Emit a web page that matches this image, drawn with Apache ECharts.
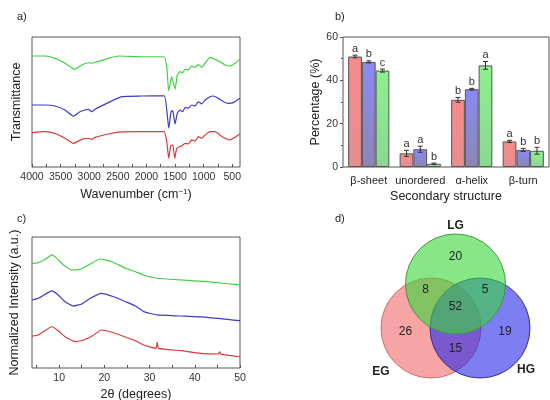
<!DOCTYPE html>
<html>
<head>
<meta charset="utf-8">
<script src="https://cdn.jsdelivr.net/npm/echarts@6.0.0/dist/echarts.min.js"></script>
<style>
  html, body { margin: 0; padding: 0; background: #fff; }
  #chart { width: 550px; height: 400px; }
</style>
</head>
<body>
<div id="chart"></div>
<script>
// ---- a) FTIR spectra (wavenumber, transmittance in arbitrary units) ----
const ftirLGwn = [4000, 3773, 3598, 3423, 3260, 3131, 3016, 2957, 2899, 2724, 2491, 2083, 1690, 1646, 1610, 1558, 1500, 1460, 1413, 1366, 1326, 1268, 1208, 1151, 1093, 1034, 976, 889, 801, 714, 626, 539, 451, 370];
const ftirLG = [85.4, 85.4, 83.6, 79.8, 75.2, 78.5, 80.2, 79.8, 80.5, 82.8, 85.4, 84.8, 84.8, 77.2, 58.5, 69.5, 59.8, 70.8, 73.3, 72.5, 75.2, 74.6, 77.7, 76.7, 78.7, 76.7, 79.8, 84.4, 82.8, 81, 78.5, 77.7, 79.8, 82.8];
const ftirHGwn = [4000, 3773, 3598, 3423, 3278, 3161, 3016, 2957, 2899, 2666, 2432, 2083, 1690, 1645, 1610, 1570, 1540, 1500, 1460, 1413, 1366, 1326, 1268, 1208, 1151, 1093, 1034, 976, 889, 831, 744, 656, 569, 481, 370];
const ftirHG = [47.7, 47.7, 46.9, 43.8, 39.2, 42.5, 44.4, 42.5, 44.4, 49.5, 54.1, 54.6, 54.8, 43.8, 29.8, 42.5, 43.3, 33.1, 41.3, 43.8, 42.5, 45.9, 45.2, 47.7, 46.9, 50.2, 48.5, 51.5, 54.1, 54.6, 52.8, 50.2, 49, 49.5, 52.8];
const ftirEGwn = [4000, 3773, 3598, 3423, 3278, 3131, 3016, 2957, 2899, 2666, 2491, 2083, 1693, 1645, 1610, 1576, 1540, 1505, 1471, 1425, 1383, 1326, 1268, 1208, 1151, 1093, 1034, 976, 889, 801, 714, 626, 539, 451, 370];
const ftirEG = [26.4, 27.2, 25.9, 22.1, 18.2, 21.3, 22.1, 21.3, 22.8, 25.4, 26.9, 27.2, 27.2, 19.5, 6.7, 16.2, 16.9, 6.7, 14.4, 15.6, 16.2, 18.2, 17.7, 20.8, 20, 23.3, 22.1, 24.6, 27.2, 27.2, 24.6, 22.1, 20.8, 22.8, 25.4];
const ftirTicks = [4000, 3500, 3000, 2500, 2000, 1500, 1000, 500];

// ---- b) secondary structure (%) ----
const structures = ['β-sheet', 'unordered', 'α-helix', 'β-turn'];
const pctEG = [51, 6.3, 31, 11.8];
const errEG = [0.6, 1.4, 1.1, 0.5];
const letEG = ['a', 'a', 'b', 'a'];
const pctHG = [48.5, 8.2, 35.9, 7.9];
const errHG = [0.5, 1.4, 0.4, 0.7];
const letHG = ['b', 'a', 'b', 'b'];
const pctLG = [44.5, 1.5, 46.9, 7.5];
const errLG = [0.7, 0.3, 1.8, 1.6];
const letLG = ['c', 'b', 'a', 'b'];

// ---- c) XRD patterns (2θ, normalized intensity) ----
const xrdLGx = [4, 5.4, 6.9, 8.4, 9.5, 11, 12.8, 14.7, 16.5, 19.1, 21.7, 24.7, 26.9, 28.7, 31.7, 36.9, 42.8, 50];
const xrdLG = [79.9, 80.4, 83, 86.3, 83.7, 78.6, 74.8, 75.3, 78.6, 83.2, 81.1, 76.1, 73.5, 71, 68.5, 67.2, 65.9, 63.4];
const xrdHGx = [4, 5.4, 8.4, 9.8, 11.3, 13.2, 15, 16.9, 19.3, 22.1, 24.7, 26.9, 28.7, 31.7, 36.9, 42.8, 50];
const xrdHG = [51.9, 53.2, 58.8, 55.7, 50.6, 47.3, 48.9, 53.2, 57, 54.4, 50.6, 47.3, 43, 40.5, 39.7, 38.7, 36.1];
const xrdEGx = [4, 5.4, 8.4, 9.8, 11.3, 13.6, 15.4, 17.3, 19.3, 22.4, 25.4, 26.9, 28.7, 31.4, 31.7, 32.0, 36.9, 41.3, 45.2, 45.5, 45.8, 50];
const xrdEG = [24.4, 25.2, 31.5, 28.5, 23.9, 20.1, 21.4, 24.4, 29, 26.5, 22.7, 20.8, 17.6, 15, 19.5, 15, 13.2, 11.2, 10.7, 12.4, 10.6, 8.6];
const xrdTicks = [10, 20, 30, 40, 50];

// ---- d) Venn counts ----
const vennSets = ['LG', 'EG', 'HG'];
const vennRegions = ['LG', 'EG', 'HG', 'LG∩EG', 'LG∩HG', 'EG∩HG', 'LG∩EG∩HG'];
const vennCounts = [20, 26, 19, 8, 5, 15, 52];

// venn layout in circle-radius units
const vennLayout = {
  circles: { LG: [0, 0.88], EG: [-0.49, 0], HG: [0.49, 0] },
  setLabels: { LG: [0, 2.04], EG: [-1.49, -0.87], HG: [1.41, -0.84] },
  regionLabels: [[0, 1.43], [-1.0, -0.07], [0.99, -0.07], [-0.6, 0.76], [0.59, 0.76], [0, -0.41], [0, 0.43]]
};

const RED = '#d63b3b', BLUE = '#3c3cc6', GREEN = '#41d041';
const FONT = '"Liberation Sans", Arial, sans-serif';
const zip = (xs, ys) => xs.map((x, i) => [x, ys[i]]);

function lineSeries(name, xs, ys, color, axis) {
  return {
    name, type: 'line', xAxisIndex: axis, yAxisIndex: axis,
    data: zip(xs, ys), showSymbol: false, smooth: 0.15,
    lineStyle: { color, width: 1.2 }, itemStyle: { color }, animation: false
  };
}

function barGrad(top, bottom) {
  return new echarts.graphic.LinearGradient(0, 0, 0, 1, [
    { offset: 0, color: top }, { offset: 1, color: bottom }
  ]);
}

function barSeries(name, vals, top, bottom) {
  return {
    name, type: 'bar', xAxisIndex: 1, yAxisIndex: 1, data: vals,
    barGap: '0%', barCategoryGap: '20%',
    itemStyle: { color: barGrad(top, bottom), borderColor: '#555', borderWidth: 1 },
    animation: false
  };
}

// error bars + significance letters, drawn over the bars
function errSeries(vals, errs, letters, idx) {
  return {
    type: 'custom', xAxisIndex: 1, yAxisIndex: 1, z: 5, animation: false,
    data: vals.map((v, i) => [i, v, errs[i]]),
    renderItem(params, api) {
      const cat = api.value(0), v = api.value(1), e = api.value(2);
      const band = api.size([1, 0])[0];
      const bw = band * 0.8 / 3;
      const x = api.coord([cat, v])[0] + (idx - 1) * bw;
      const yHi = api.coord([cat, v + e])[1];
      const yLo = api.coord([cat, v - e])[1];
      const st = { stroke: '#333', lineWidth: 1 };
      return {
        type: 'group',
        children: [
          { type: 'line', shape: { x1: x, y1: yHi, x2: x, y2: yLo }, style: st },
          { type: 'line', shape: { x1: x - 2.5, y1: yHi, x2: x + 2.5, y2: yHi }, style: st },
          { type: 'line', shape: { x1: x - 2.5, y1: yLo, x2: x + 2.5, y2: yLo }, style: st },
          {
            type: 'text',
            style: {
              text: letters[params.dataIndex], x, y: yHi - 1,
              align: 'center', verticalAlign: 'bottom',
              fontSize: 11, fill: '#333', fontFamily: FONT
            }
          }
        ]
      };
    }
  };
}

const vennFill = { LG: 'rgba(55,215,55,0.6)', EG: 'rgba(238,80,80,0.52)', HG: 'rgba(40,40,235,0.6)' };
const vennStroke = { LG: '#3f9a3f', EG: '#d07070', HG: '#30309a' };

const chart = echarts.init(document.getElementById('chart'), null, { renderer: 'canvas' });

const tickLabel = { color: '#333', fontSize: 10.5, fontFamily: FONT };
const nameStyle = { color: '#222', fontSize: 12.5, fontFamily: FONT };

chart.setOption({
  animation: false,
  textStyle: { fontFamily: FONT },
  graphic: [
    { type: 'text', left: 17, top: 11, style: { text: 'a)', fontSize: 11, fill: '#222', fontFamily: FONT } },
    { type: 'text', left: 335, top: 11, style: { text: 'b)', fontSize: 11, fill: '#222', fontFamily: FONT } },
    { type: 'text', left: 17, top: 213, style: { text: 'c)', fontSize: 11, fill: '#222', fontFamily: FONT } },
    { type: 'text', left: 335, top: 213, style: { text: 'd)', fontSize: 11, fill: '#222', fontFamily: FONT } }
  ],
  grid: [
    { left: 32, top: 37, width: 208, height: 130, show: true, borderColor: '#555', borderWidth: 1, outerBoundsMode: 'none' },
    { left: 343, top: 37, width: 206, height: 130, show: true, borderColor: '#555', borderWidth: 1, outerBoundsMode: 'none' },
    { left: 32, top: 237, width: 208, height: 131, show: true, borderColor: '#555', borderWidth: 1, outerBoundsMode: 'none' },
    { left: 375.5, top: 218, width: 160, height: 170, show: false, outerBoundsMode: 'none' }
  ],
  xAxis: [
    {
      gridIndex: 0, type: 'value', inverse: true, min: 365, max: 4000,
      axisLine: { show: false }, splitLine: { show: false },
      axisTick: { inside: true, length: 3, lineStyle: { color: '#555' },
        customValues: [4000, 3750, 3500, 3250, 3000, 2750, 2500, 2250, 2000, 1750, 1500, 1250, 1000, 750, 500] },
      axisLabel: { ...tickLabel, margin: 5, customValues: ftirTicks, formatter: v => String(v) },
      name: '{t|Wavenumber (cm}{s|−1}{t|)}', nameLocation: 'middle', nameGap: 21,
      nameTextStyle: { rich: { t: { ...nameStyle }, s: { ...nameStyle, fontSize: 8, verticalAlign: 'top', padding: [0, 0, 6, 0] } } }
    },
    {
      gridIndex: 1, type: 'category', data: structures,
      axisLine: { show: false }, axisTick: { show: false },
      axisLabel: { ...tickLabel, fontSize: 11, margin: 8, color: '#222', interval: 0 },
      name: 'Secondary structure', nameLocation: 'middle', nameGap: 23, nameTextStyle: nameStyle
    },
    {
      gridIndex: 2, type: 'value', min: 4, max: 50,
      axisLine: { show: false }, splitLine: { show: false },
      axisTick: { inside: true, length: 3, lineStyle: { color: '#555' },
        customValues: [5, 10, 15, 20, 25, 30, 35, 40, 45, 50] },
      axisLabel: { ...tickLabel, margin: 5, customValues: xrdTicks },
      name: '2θ (degrees)', nameLocation: 'middle', nameGap: 20, nameTextStyle: nameStyle
    },
    { gridIndex: 3, type: 'value', min: -1.6, max: 1.6, show: false }
  ],
  yAxis: [
    {
      gridIndex: 0, type: 'value', min: 0, max: 100,
      axisLine: { show: false }, axisTick: { show: false }, axisLabel: { show: false }, splitLine: { show: false },
      name: 'Transmittance', nameLocation: 'middle', nameGap: 9, nameTextStyle: nameStyle
    },
    {
      gridIndex: 1, type: 'value', min: 0, max: 60, interval: 20,
      axisLine: { show: false }, splitLine: { show: false },
      axisTick: { show: true, length: 3, lineStyle: { color: '#555' } },
      minorTick: { show: true, splitNumber: 2, length: 2, lineStyle: { color: '#555' } },
      axisLabel: { ...tickLabel, margin: 5 },
      name: 'Percentage (%)', nameLocation: 'middle', nameGap: 13, nameTextStyle: nameStyle
    },
    {
      gridIndex: 2, type: 'value', min: 0, max: 100,
      axisLine: { show: false }, axisTick: { show: false }, axisLabel: { show: false }, splitLine: { show: false },
      name: 'Normalized Intensity (a.u.)', nameLocation: 'middle', nameGap: 11, nameTextStyle: nameStyle
    },
    { gridIndex: 3, type: 'value', min: -1.2, max: 2.2, show: false }
  ],
  series: [
    lineSeries('LG', ftirLGwn, ftirLG, GREEN, 0),
    lineSeries('HG', ftirHGwn, ftirHG, BLUE, 0),
    lineSeries('EG', ftirEGwn, ftirEG, RED, 0),

    barSeries('EG', pctEG, '#f78a8a', '#e58e90'),
    barSeries('HG', pctHG, '#8a8af4', '#8b86b4'),
    barSeries('LG', pctLG, '#8ef08e', '#8ad890'),
    errSeries(pctEG, errEG, letEG, 0),
    errSeries(pctHG, errHG, letHG, 1),
    errSeries(pctLG, errLG, letLG, 2),

    lineSeries('LG', xrdLGx, xrdLG, GREEN, 2),
    lineSeries('HG', xrdHGx, xrdHG, BLUE, 2),
    lineSeries('EG', xrdEGx, xrdEG, RED, 2),

    // venn circles: EG, HG underneath, LG on top
    {
      type: 'custom', xAxisIndex: 3, yAxisIndex: 3, animation: false,
      data: ['EG', 'HG', 'LG'].map(s => vennLayout.circles[s]),
      renderItem(params, api) {
        const set = ['EG', 'HG', 'LG'][params.dataIndex];
        const c = api.coord([api.value(0), api.value(1)]);
        const r = api.size([1, 1])[0];
        return {
          type: 'circle', shape: { cx: c[0], cy: c[1], r },
          style: { fill: vennFill[set], stroke: vennStroke[set], lineWidth: 1 }
        };
      }
    },
    // region counts + set names
    {
      type: 'custom', xAxisIndex: 3, yAxisIndex: 3, animation: false, z: 6,
      data: vennLayout.regionLabels.concat(vennSets.map(s => vennLayout.setLabels[s])),
      renderItem(params, api) {
        const i = params.dataIndex;
        const c = api.coord([api.value(0), api.value(1)]);
        const isSet = i >= vennCounts.length;
        return {
          type: 'text',
          style: {
            text: isSet ? vennSets[i - vennCounts.length] : String(vennCounts[i]),
            x: c[0], y: c[1], align: 'center', verticalAlign: 'middle',
            fontSize: 12, fontWeight: isSet ? 'bold' : 'normal',
            fill: '#222', fontFamily: FONT
          }
        };
      }
    }
  ]
});
</script>
</body>
</html>
